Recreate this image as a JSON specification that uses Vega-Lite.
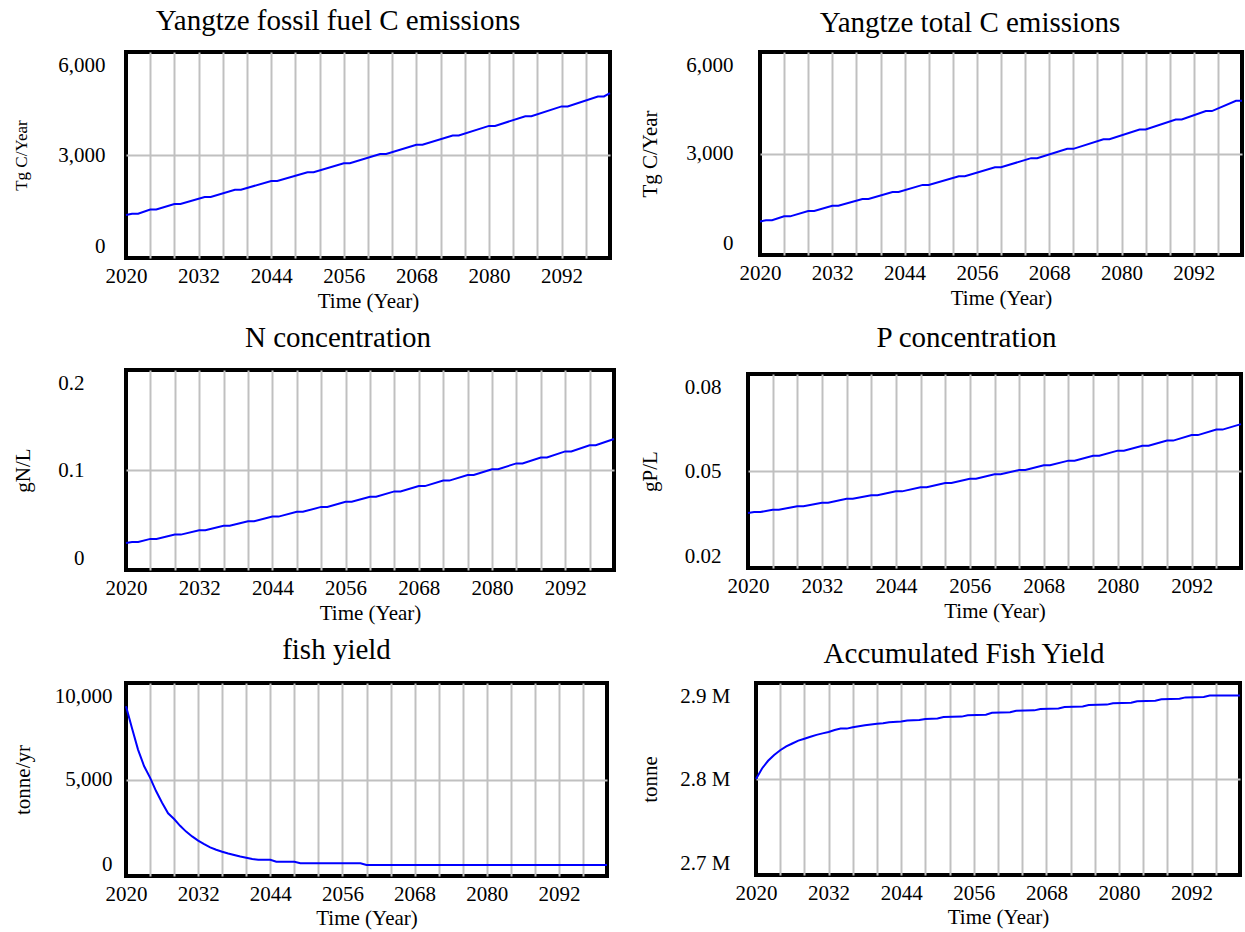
{
  "$schema": "https://vega.github.io/schema/vega-lite/v6.json",
  "padding": {"left": 10, "top": 5, "right": 0, "bottom": 0},
  "background": "white",
  "datasets": {
    "fossil": [
      {"year": 2020, "v": 1250}, {"year": 2021, "v": 1290}, {"year": 2022, "v": 1290},
      {"year": 2024, "v": 1411}, {"year": 2025, "v": 1411}, {"year": 2028, "v": 1574},
      {"year": 2029, "v": 1574}, {"year": 2033, "v": 1779}, {"year": 2034, "v": 1779},
      {"year": 2038, "v": 1988}, {"year": 2039, "v": 1988}, {"year": 2044, "v": 2242},
      {"year": 2045, "v": 2242}, {"year": 2050, "v": 2500}, {"year": 2051, "v": 2500},
      {"year": 2056, "v": 2761}, {"year": 2057, "v": 2761}, {"year": 2062, "v": 3027},
      {"year": 2063, "v": 3027}, {"year": 2068, "v": 3297}, {"year": 2069, "v": 3297},
      {"year": 2074, "v": 3570}, {"year": 2075, "v": 3570}, {"year": 2080, "v": 3848},
      {"year": 2081, "v": 3848}, {"year": 2086, "v": 4130}, {"year": 2087, "v": 4130},
      {"year": 2092, "v": 4415}, {"year": 2093, "v": 4415}, {"year": 2098, "v": 4705},
      {"year": 2099, "v": 4705}, {"year": 2100, "v": 4802}
    ],
    "total": [
      {"year": 2020, "v": 990}, {"year": 2021, "v": 1028}, {"year": 2022, "v": 1028},
      {"year": 2024, "v": 1142}, {"year": 2025, "v": 1142}, {"year": 2028, "v": 1298},
      {"year": 2029, "v": 1298}, {"year": 2032, "v": 1455}, {"year": 2033, "v": 1455},
      {"year": 2037, "v": 1657}, {"year": 2038, "v": 1657}, {"year": 2042, "v": 1862},
      {"year": 2043, "v": 1862}, {"year": 2047, "v": 2072}, {"year": 2048, "v": 2072},
      {"year": 2053, "v": 2329}, {"year": 2054, "v": 2329}, {"year": 2059, "v": 2593},
      {"year": 2060, "v": 2593}, {"year": 2065, "v": 2863}, {"year": 2066, "v": 2863},
      {"year": 2071, "v": 3138}, {"year": 2072, "v": 3138}, {"year": 2077, "v": 3421},
      {"year": 2078, "v": 3421}, {"year": 2083, "v": 3709}, {"year": 2084, "v": 3709},
      {"year": 2089, "v": 4004}, {"year": 2090, "v": 4004}, {"year": 2094, "v": 4254},
      {"year": 2095, "v": 4254}, {"year": 2099, "v": 4560}, {"year": 2100, "v": 4560}
    ],
    "nconc": [
      {"year": 2020, "v": 0.0270}, {"year": 2021, "v": 0.0280}, {"year": 2022, "v": 0.0280},
      {"year": 2024, "v": 0.0311}, {"year": 2025, "v": 0.0311}, {"year": 2028, "v": 0.0354},
      {"year": 2029, "v": 0.0354}, {"year": 2032, "v": 0.0397}, {"year": 2033, "v": 0.0397},
      {"year": 2036, "v": 0.0442}, {"year": 2037, "v": 0.0442}, {"year": 2040, "v": 0.0487},
      {"year": 2041, "v": 0.0487}, {"year": 2044, "v": 0.0534}, {"year": 2045, "v": 0.0534},
      {"year": 2048, "v": 0.0582}, {"year": 2049, "v": 0.0582}, {"year": 2052, "v": 0.0631},
      {"year": 2053, "v": 0.0631}, {"year": 2056, "v": 0.0682}, {"year": 2057, "v": 0.0682},
      {"year": 2060, "v": 0.0733}, {"year": 2061, "v": 0.0733}, {"year": 2064, "v": 0.0786},
      {"year": 2065, "v": 0.0786}, {"year": 2068, "v": 0.0839}, {"year": 2069, "v": 0.0839},
      {"year": 2072, "v": 0.0894}, {"year": 2073, "v": 0.0894}, {"year": 2076, "v": 0.0950},
      {"year": 2077, "v": 0.0950}, {"year": 2080, "v": 0.1008}, {"year": 2081, "v": 0.1008},
      {"year": 2084, "v": 0.1066}, {"year": 2085, "v": 0.1066}, {"year": 2088, "v": 0.1125},
      {"year": 2089, "v": 0.1125}, {"year": 2092, "v": 0.1186}, {"year": 2093, "v": 0.1186},
      {"year": 2096, "v": 0.1248}, {"year": 2097, "v": 0.1248}, {"year": 2100, "v": 0.1310}
    ],
    "pconc": [
      {"year": 2020, "v": 0.0370}, {"year": 2021, "v": 0.0373}, {"year": 2022, "v": 0.0373},
      {"year": 2024, "v": 0.0380}, {"year": 2025, "v": 0.0380}, {"year": 2028, "v": 0.0391},
      {"year": 2029, "v": 0.0391}, {"year": 2032, "v": 0.0402}, {"year": 2033, "v": 0.0402},
      {"year": 2036, "v": 0.0414}, {"year": 2037, "v": 0.0414}, {"year": 2040, "v": 0.0425},
      {"year": 2041, "v": 0.0425}, {"year": 2044, "v": 0.0437}, {"year": 2045, "v": 0.0437},
      {"year": 2048, "v": 0.0450}, {"year": 2049, "v": 0.0450}, {"year": 2052, "v": 0.0463},
      {"year": 2053, "v": 0.0463}, {"year": 2056, "v": 0.0476}, {"year": 2057, "v": 0.0476},
      {"year": 2060, "v": 0.0490}, {"year": 2061, "v": 0.0490}, {"year": 2064, "v": 0.0503},
      {"year": 2065, "v": 0.0503}, {"year": 2068, "v": 0.0518}, {"year": 2069, "v": 0.0518},
      {"year": 2072, "v": 0.0532}, {"year": 2073, "v": 0.0532}, {"year": 2076, "v": 0.0547},
      {"year": 2077, "v": 0.0547}, {"year": 2080, "v": 0.0563}, {"year": 2081, "v": 0.0563},
      {"year": 2084, "v": 0.0578}, {"year": 2085, "v": 0.0578}, {"year": 2088, "v": 0.0594},
      {"year": 2089, "v": 0.0594}, {"year": 2092, "v": 0.0611}, {"year": 2093, "v": 0.0611},
      {"year": 2096, "v": 0.0628}, {"year": 2097, "v": 0.0628}, {"year": 2100, "v": 0.0645}
    ],
    "fish": [
      {"year": 2020, "v": 8800}, {"year": 2021, "v": 7650}, {"year": 2022, "v": 6550},
      {"year": 2023, "v": 5700}, {"year": 2024, "v": 5100}, {"year": 2025, "v": 4400},
      {"year": 2026, "v": 3800}, {"year": 2027, "v": 3250}, {"year": 2028, "v": 2950},
      {"year": 2029, "v": 2600}, {"year": 2030, "v": 2300}, {"year": 2031, "v": 2050},
      {"year": 2032, "v": 1830}, {"year": 2033, "v": 1650}, {"year": 2034, "v": 1480},
      {"year": 2035, "v": 1360}, {"year": 2036, "v": 1260}, {"year": 2037, "v": 1170},
      {"year": 2038, "v": 1090}, {"year": 2039, "v": 1010}, {"year": 2040, "v": 950},
      {"year": 2041, "v": 880}, {"year": 2042, "v": 845}, {"year": 2044, "v": 845},
      {"year": 2045, "v": 741}, {"year": 2048, "v": 741}, {"year": 2049, "v": 660},
      {"year": 2059, "v": 660}, {"year": 2060, "v": 570}, {"year": 2100, "v": 570}
    ],
    "accum": [
      {"year": 2020, "v": 2800000}, {"year": 2021, "v": 2811000}, {"year": 2022, "v": 2819000},
      {"year": 2023, "v": 2825000}, {"year": 2024, "v": 2830000}, {"year": 2025, "v": 2834000},
      {"year": 2026, "v": 2837000}, {"year": 2027, "v": 2840000}, {"year": 2028, "v": 2842000},
      {"year": 2029, "v": 2844000}, {"year": 2030, "v": 2846000}, {"year": 2031, "v": 2847500},
      {"year": 2032, "v": 2849000}, {"year": 2033, "v": 2851000}, {"year": 2034, "v": 2852500},
      {"year": 2035, "v": 2852500}, {"year": 2036, "v": 2854000}, {"year": 2038, "v": 2856000},
      {"year": 2040, "v": 2857500}, {"year": 2041, "v": 2858000}, {"year": 2042, "v": 2859000},
      {"year": 2044, "v": 2860000}, {"year": 2045, "v": 2861000}, {"year": 2047, "v": 2861500},
      {"year": 2048, "v": 2862500}, {"year": 2050, "v": 2863000}, {"year": 2051, "v": 2864500},
      {"year": 2054, "v": 2865000}, {"year": 2055, "v": 2866500}, {"year": 2058, "v": 2867000},
      {"year": 2059, "v": 2869000}, {"year": 2062, "v": 2869500}, {"year": 2063, "v": 2871000},
      {"year": 2066, "v": 2871500}, {"year": 2067, "v": 2873000}, {"year": 2070, "v": 2873500},
      {"year": 2071, "v": 2875000}, {"year": 2074, "v": 2875500}, {"year": 2075, "v": 2877000},
      {"year": 2078, "v": 2877500}, {"year": 2079, "v": 2879000}, {"year": 2082, "v": 2879500},
      {"year": 2083, "v": 2881000}, {"year": 2086, "v": 2881500}, {"year": 2087, "v": 2883000},
      {"year": 2090, "v": 2883500}, {"year": 2091, "v": 2885000}, {"year": 2094, "v": 2885500},
      {"year": 2095, "v": 2887000}, {"year": 2100, "v": 2887000}
    ]
  },
  "columns": 2,
  "align": "none",
  "spacing": {"column": 17, "row": 9},
  "concat": [
    {
      "title": {"text": "Yangtze fossil fuel C emissions", "offset": 16, "dx": -30},
      "width": 484, "height": 206,
      "data": {"name": "fossil"},
      "mark": {"type": "line"},
      "encoding": {
        "x": {"field": "year", "type": "quantitative", "scale": {"domain": [2020, 2100], "nice": false, "zero": false},
          "axis": {"values": [2020, 2024, 2028, 2032, 2036, 2040, 2044, 2048, 2052, 2056, 2060, 2064, 2068, 2072, 2076, 2080, 2084, 2088, 2092, 2096, 2100],
            "labelExpr": "(datum.value - 2020) % 12 == 0 ? datum.value : ''", "labelOverlap": false, "labelFlush": false, "labelBound": false,
            "gridOpacity": {"condition": {"test": "datum.value == 2020 || datum.value == 2100", "value": 0}, "value": 1},
            "labelPadding": 7, "title": "Time (Year)", "titlePadding": 4}},
        "y": {"field": "v", "type": "quantitative", "scale": {"domain": [0, 6000], "nice": false, "zero": false},
          "axis": {"values": [0, 3000, 6000], "format": ",d", "labelFlush": true, "labelFlushOffset": -2, "labelOverlap": false,
            "gridOpacity": {"condition": {"test": "datum.value == 0 || datum.value == 6000", "value": 0}, "value": 1},
            "labelPadding": 21, "title": "Tg C/Year", "titleFontSize": 17, "titlePadding": 27}}
      }
    },
    {
      "title": {"text": "Yangtze total C emissions", "offset": 14, "dx": -31},
      "width": 482, "height": 203,
      "data": {"name": "total"},
      "mark": {"type": "line"},
      "encoding": {
        "x": {"field": "year", "type": "quantitative", "scale": {"domain": [2020, 2100], "nice": false, "zero": false},
          "axis": {"values": [2020, 2024, 2028, 2032, 2036, 2040, 2044, 2048, 2052, 2056, 2060, 2064, 2068, 2072, 2076, 2080, 2084, 2088, 2092, 2096, 2100],
            "labelExpr": "(datum.value - 2020) % 12 == 0 ? datum.value : ''", "labelOverlap": false, "labelFlush": false, "labelBound": false,
            "gridOpacity": {"condition": {"test": "datum.value == 2020 || datum.value == 2100", "value": 0}, "value": 1},
            "labelPadding": 7, "title": "Time (Year)", "titlePadding": 4}},
        "y": {"field": "v", "type": "quantitative", "scale": {"domain": [0, 6000], "nice": false, "zero": false},
          "axis": {"values": [0, 3000, 6000], "format": ",d", "labelFlush": true, "labelFlushOffset": -2, "labelOverlap": false,
            "gridOpacity": {"condition": {"test": "datum.value == 0 || datum.value == 6000", "value": 0}, "value": 1},
            "labelPadding": 27, "title": "Tg C/Year", "titlePadding": 25}}
      }
    },
    {
      "title": {"text": "N concentration", "offset": 17, "dx": -32},
      "width": 488, "height": 200,
      "data": {"name": "nconc"},
      "mark": {"type": "line"},
      "encoding": {
        "x": {"field": "year", "type": "quantitative", "scale": {"domain": [2020, 2100], "nice": false, "zero": false},
          "axis": {"values": [2020, 2024, 2028, 2032, 2036, 2040, 2044, 2048, 2052, 2056, 2060, 2064, 2068, 2072, 2076, 2080, 2084, 2088, 2092, 2096, 2100],
            "labelExpr": "(datum.value - 2020) % 12 == 0 ? datum.value : ''", "labelOverlap": false, "labelFlush": false, "labelBound": false,
            "gridOpacity": {"condition": {"test": "datum.value == 2020 || datum.value == 2100", "value": 0}, "value": 1},
            "labelPadding": 7, "title": "Time (Year)", "titlePadding": 4}},
        "y": {"field": "v", "type": "quantitative", "scale": {"domain": [0, 0.2], "nice": false, "zero": false},
          "axis": {"values": [0, 0.1, 0.2], "format": "~g", "labelFlush": true, "labelFlushOffset": -2, "labelOverlap": false,
            "gridOpacity": {"condition": {"test": "datum.value == 0 || datum.value == 0.2", "value": 0}, "value": 1},
            "labelPadding": 42, "title": "gN/L", "titlePadding": 24}}
      }
    },
    {
      "title": {"text": "P concentration", "offset": 21, "dx": -28},
      "width": 493, "height": 194,
      "data": {"name": "pconc"},
      "mark": {"type": "line"},
      "encoding": {
        "x": {"field": "year", "type": "quantitative", "scale": {"domain": [2020, 2100], "nice": false, "zero": false},
          "axis": {"values": [2020, 2024, 2028, 2032, 2036, 2040, 2044, 2048, 2052, 2056, 2060, 2064, 2068, 2072, 2076, 2080, 2084, 2088, 2092, 2096, 2100],
            "labelExpr": "(datum.value - 2020) % 12 == 0 ? datum.value : ''", "labelOverlap": false, "labelFlush": false, "labelBound": false,
            "gridOpacity": {"condition": {"test": "datum.value == 2020 || datum.value == 2100", "value": 0}, "value": 1},
            "labelPadding": 7, "title": "Time (Year)", "titlePadding": 4}},
        "y": {"field": "v", "type": "quantitative", "scale": {"domain": [0.02, 0.08], "nice": false, "zero": false},
          "axis": {"values": [0.02, 0.05, 0.08], "format": "~g", "labelFlush": true, "labelFlushOffset": -2, "labelOverlap": false,
            "gridOpacity": {"condition": {"test": "datum.value < 0.03 || datum.value > 0.07", "value": 0}, "value": 1},
            "labelPadding": 27, "title": "gP/L", "titlePadding": 24}}
      }
    },
    {
      "title": {"text": "fish yield", "offset": 18, "dx": -30},
      "width": 481, "height": 193,
      "data": {"name": "fish"},
      "mark": {"type": "line"},
      "encoding": {
        "x": {"field": "year", "type": "quantitative", "scale": {"domain": [2020, 2100], "nice": false, "zero": false},
          "axis": {"values": [2020, 2024, 2028, 2032, 2036, 2040, 2044, 2048, 2052, 2056, 2060, 2064, 2068, 2072, 2076, 2080, 2084, 2088, 2092, 2096, 2100],
            "labelExpr": "(datum.value - 2020) % 12 == 0 ? datum.value : ''", "labelOverlap": false, "labelFlush": false, "labelBound": false,
            "gridOpacity": {"condition": {"test": "datum.value == 2020 || datum.value == 2100", "value": 0}, "value": 1},
            "labelPadding": 7, "title": "Time (Year)", "titlePadding": 3}},
        "y": {"field": "v", "type": "quantitative", "scale": {"domain": [0, 10000], "nice": false, "zero": false},
          "axis": {"values": [0, 5000, 10000], "format": ",d", "labelFlush": true, "labelFlushOffset": -2, "labelOverlap": false,
            "gridOpacity": {"condition": {"test": "datum.value == 0 || datum.value == 10000", "value": 0}, "value": 1},
            "labelPadding": 14, "title": "tonne/yr", "titlePadding": 21}}
      }
    },
    {
      "title": {"text": "Accumulated Fish Yield", "offset": 14, "dx": -34},
      "width": 484, "height": 192,
      "data": {"name": "accum"},
      "mark": {"type": "line"},
      "encoding": {
        "x": {"field": "year", "type": "quantitative", "scale": {"domain": [2020, 2100], "nice": false, "zero": false},
          "axis": {"values": [2020, 2024, 2028, 2032, 2036, 2040, 2044, 2048, 2052, 2056, 2060, 2064, 2068, 2072, 2076, 2080, 2084, 2088, 2092, 2096, 2100],
            "labelExpr": "(datum.value - 2020) % 12 == 0 ? datum.value : ''", "labelOverlap": false, "labelFlush": false, "labelBound": false,
            "gridOpacity": {"condition": {"test": "datum.value == 2020 || datum.value == 2100", "value": 0}, "value": 1},
            "labelPadding": 7, "title": "Time (Year)", "titlePadding": 3}},
        "y": {"field": "v", "type": "quantitative", "scale": {"domain": [2700000, 2900000], "nice": false, "zero": false},
          "axis": {"values": [2700000, 2800000, 2900000], "labelExpr": "format(datum.value / 1000000, '.1f') + ' M'", "labelFlush": true, "labelFlushOffset": -2, "labelOverlap": false,
            "gridOpacity": {"condition": {"test": "datum.value == 2700000 || datum.value == 2900000", "value": 0}, "value": 1},
            "labelPadding": 26, "title": "tonne", "titlePadding": 19}}
      }
    }
  ],
  "config": {
    "font": "Liberation Serif",
    "view": {"stroke": "black", "strokeWidth": 4},
    "axis": {
      "labelFont": "Liberation Serif", "titleFont": "Liberation Serif",
      "labelFontSize": 21, "titleFontSize": 21, "titleFontWeight": "normal",
      "labelColor": "black", "titleColor": "black",
      "domain": false, "ticks": false, "tickSize": 0,
      "grid": true, "gridColor": "#c0c0c0", "gridWidth": 2
    },
    "title": {"font": "Liberation Serif", "fontSize": 29, "fontWeight": "normal", "color": "black", "anchor": "middle", "frame": "group"},
    "line": {"color": "#0000ff", "strokeWidth": 2}
  }
}
